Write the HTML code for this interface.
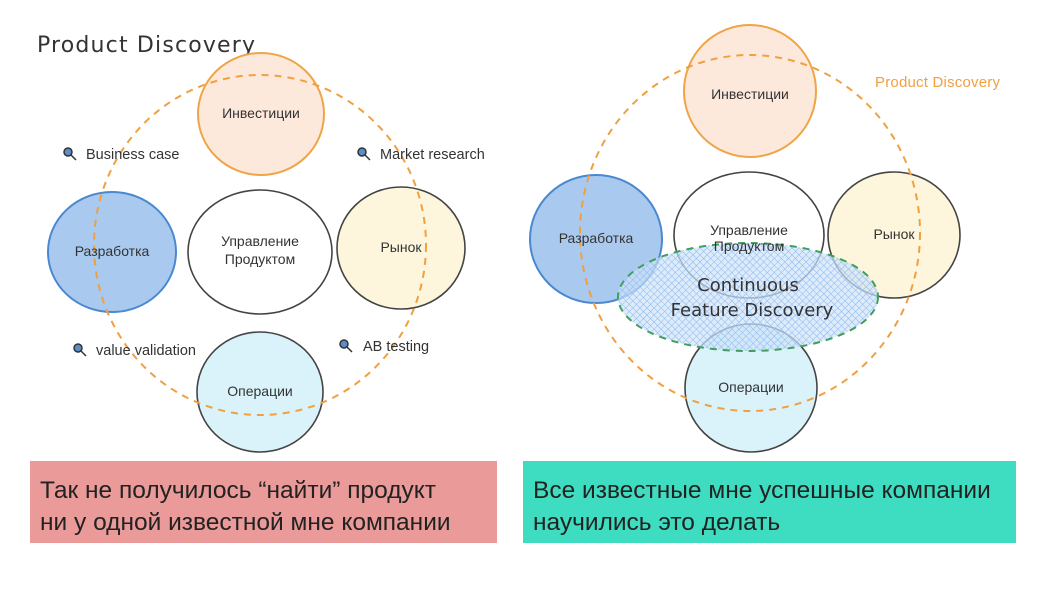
<!DOCTYPE html>
<html><head><meta charset="utf-8"><style>
body{margin:0;width:1054px;height:594px;background:#fff;overflow:hidden;position:relative;font-family:"Liberation Sans","Noto Sans CJK SC",sans-serif}
.box{position:absolute;top:461px;height:82px;font-size:24.5px;line-height:32px;color:#222;box-sizing:border-box;padding:14px 0 0 10px;white-space:nowrap}
</style></head><body>
<svg width="1054" height="594" style="position:absolute;left:0;top:0" font-family="Liberation Sans, DejaVu Sans, sans-serif">
<defs>
<pattern id="x" width="5" height="5" patternUnits="userSpaceOnUse" patternTransform="rotate(45)"><path d="M0 0V5M0 0H5" stroke="#8ab8ee" stroke-width="1"/></pattern>
</defs>
<text x="37" y="52" font-size="22" fill="#333" font-family="DejaVu Sans, sans-serif" textLength="218">Product Discovery</text>
<!-- left -->
<ellipse cx="261" cy="114" rx="63" ry="61" fill="#fde9dc" stroke="#f0a448" stroke-width="2"/>
<ellipse cx="112" cy="252" rx="64" ry="60" fill="#a9c9ef" stroke="#4a88d0" stroke-width="2"/>
<ellipse cx="260" cy="252" rx="72" ry="62" fill="#fff" stroke="#444" stroke-width="1.6"/>
<ellipse cx="401" cy="248" rx="64" ry="61" fill="#fdf6dc" stroke="#444" stroke-width="1.6"/>
<ellipse cx="260" cy="392" rx="63" ry="60" fill="#daf3fa" stroke="#444" stroke-width="1.6"/>
<ellipse cx="260" cy="245" rx="166" ry="170" fill="none" stroke="#f0a040" stroke-width="2" stroke-dasharray="7 6"/>
<g font-size="14" fill="#333" text-anchor="middle">
<text x="261" y="118">Инвестиции</text><text x="112" y="256">Разработка</text>
<text x="260" y="246">Управление</text><text x="260" y="264">Продуктом</text>
<text x="401" y="252">Рынок</text><text x="260" y="396">Операции</text>
</g>
<g font-size="14.5" fill="#333">
<text x="86" y="159">Business case</text><text x="380" y="159">Market research</text>
<text x="96" y="355">value validation</text><text x="363" y="351">AB testing</text>
</g>
<g fill="#5b8fc9" stroke="#333" stroke-width="1.5">
<circle cx="68" cy="152" r="4"/><line x1="71" y1="155" x2="76" y2="160"/>
<circle cx="362" cy="152" r="4"/><line x1="365" y1="155" x2="370" y2="160"/>
<circle cx="78" cy="348" r="4"/><line x1="81" y1="351" x2="86" y2="356"/>
<circle cx="344" cy="344" r="4"/><line x1="347" y1="347" x2="352" y2="352"/>
</g>
<!-- right -->
<ellipse cx="750" cy="91" rx="66" ry="66" fill="#fde9dc" stroke="#f0a448" stroke-width="2"/>
<ellipse cx="596" cy="239" rx="66" ry="64" fill="#a9c9ef" stroke="#4a88d0" stroke-width="2"/>
<ellipse cx="749" cy="235" rx="75" ry="63" fill="#fff" stroke="#444" stroke-width="1.6"/>
<ellipse cx="894" cy="235" rx="66" ry="63" fill="#fdf6dc" stroke="#444" stroke-width="1.6"/>
<ellipse cx="751" cy="388" rx="66" ry="64" fill="#daf3fa" stroke="#444" stroke-width="1.6"/>
<ellipse cx="748" cy="297" rx="130" ry="54" fill="#cfe3f8" fill-opacity=".7" stroke="none"/>
<ellipse cx="748" cy="297" rx="130" ry="54" fill="url(#x)" stroke="#3ea05a" stroke-width="2" stroke-dasharray="7 6"/>
<ellipse cx="750" cy="233" rx="170" ry="178" fill="none" stroke="#f0a040" stroke-width="2" stroke-dasharray="7 6"/>
<g font-size="14" fill="#333" text-anchor="middle">
<text x="750" y="99">Инвестиции</text><text x="596" y="243">Разработка</text>
<text x="749" y="235">Управление</text><text x="749" y="251">Продуктом</text>
<text x="894" y="239">Рынок</text><text x="751" y="392">Операции</text>
</g>
<g font-size="18" fill="#333" text-anchor="middle" font-family="DejaVu Sans, sans-serif">
<text x="748" y="291">Continuous</text><text x="752" y="316">Feature Discovery</text>
</g>
<text x="875" y="87" font-size="15" fill="#f0a040" textLength="125">Product Discovery</text>
</svg>
<div class="box" style="left:30px;width:467px;background:#ea9a98">Так не получилось “найти” продукт<br>ни у одной известной мне компании</div>
<div class="box" style="left:523px;width:493px;background:#3edcc0">Все известные мне успешные компании<br>научились это делать</div>
</body></html>
